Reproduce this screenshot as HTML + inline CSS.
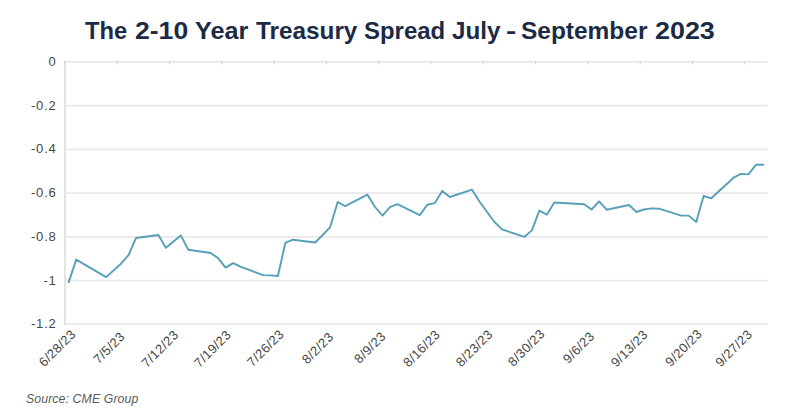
<!DOCTYPE html>
<html><head><meta charset="utf-8">
<style>
html,body{margin:0;padding:0;background:#fff;}
body{width:800px;height:419px;overflow:hidden;position:relative;font-family:"Liberation Sans",sans-serif;}
#title{position:absolute;left:0;top:0;width:800px;text-align:center;font-weight:bold;font-size:24px;color:#1c2b45;line-height:1;}
#title span{position:absolute;top:19px;white-space:nowrap;transform-origin:0 0;}
svg{position:absolute;left:0;top:0;}
#src{position:absolute;left:26px;top:393px;font-style:italic;font-size:12.3px;letter-spacing:0.1px;color:#5a5a5a;white-space:nowrap;line-height:1;}
</style></head><body>
<div id="title"><span style="left:85.36px;transform:scaleX(0.9878)">The</span><span style="left:134.76px;transform:scaleX(1.1064)">2-10</span><span style="left:194.62px;transform:scaleX(1.0503)">Year</span><span style="left:255.68px;transform:scaleX(1.0130)">Treasury</span><span style="left:363.51px;transform:scaleX(0.9980)">Spread</span><span style="left:451.64px;transform:scaleX(1.0092)">July</span><span style="left:505.68px;transform:scaleX(1.2922)">-</span><span style="left:521.47px;transform:scaleX(1.0192)">September</span><span style="left:654.92px;transform:scaleX(1.1200)">2023</span></div>
<svg width="800" height="419" viewBox="0 0 800 419">
<line x1="65.0" y1="61.9" x2="767.8" y2="61.9" stroke="#e9e9e9" stroke-width="1.7"/>
<line x1="65.0" y1="105.6" x2="767.8" y2="105.6" stroke="#e9e9e9" stroke-width="1.7"/>
<line x1="65.0" y1="149.3" x2="767.8" y2="149.3" stroke="#e9e9e9" stroke-width="1.7"/>
<line x1="65.0" y1="193.1" x2="767.8" y2="193.1" stroke="#e9e9e9" stroke-width="1.7"/>
<line x1="65.0" y1="236.8" x2="767.8" y2="236.8" stroke="#e9e9e9" stroke-width="1.7"/>
<line x1="65.0" y1="280.5" x2="767.8" y2="280.5" stroke="#e9e9e9" stroke-width="1.7"/>
<line x1="65.0" y1="324.2" x2="767.8" y2="324.2" stroke="#e9e9e9" stroke-width="1.7"/>

<line x1="65.0" y1="61.1" x2="65.0" y2="325.0" stroke="#e0e0e0" stroke-width="1.8"/>
<line x1="65.0" y1="60.9" x2="65.0" y2="64.4" stroke="#d0d0d0" stroke-width="1"/>
<line x1="117.3" y1="60.9" x2="117.3" y2="64.4" stroke="#d0d0d0" stroke-width="1"/>
<line x1="169.6" y1="60.9" x2="169.6" y2="64.4" stroke="#d0d0d0" stroke-width="1"/>
<line x1="221.9" y1="60.9" x2="221.9" y2="64.4" stroke="#d0d0d0" stroke-width="1"/>
<line x1="274.2" y1="60.9" x2="274.2" y2="64.4" stroke="#d0d0d0" stroke-width="1"/>
<line x1="326.4" y1="60.9" x2="326.4" y2="64.4" stroke="#d0d0d0" stroke-width="1"/>
<line x1="378.7" y1="60.9" x2="378.7" y2="64.4" stroke="#d0d0d0" stroke-width="1"/>
<line x1="431.0" y1="60.9" x2="431.0" y2="64.4" stroke="#d0d0d0" stroke-width="1"/>
<line x1="483.3" y1="60.9" x2="483.3" y2="64.4" stroke="#d0d0d0" stroke-width="1"/>
<line x1="535.6" y1="60.9" x2="535.6" y2="64.4" stroke="#d0d0d0" stroke-width="1"/>
<line x1="587.9" y1="60.9" x2="587.9" y2="64.4" stroke="#d0d0d0" stroke-width="1"/>
<line x1="640.2" y1="60.9" x2="640.2" y2="64.4" stroke="#d0d0d0" stroke-width="1"/>
<line x1="692.5" y1="60.9" x2="692.5" y2="64.4" stroke="#d0d0d0" stroke-width="1"/>
<line x1="744.8" y1="60.9" x2="744.8" y2="64.4" stroke="#d0d0d0" stroke-width="1"/>

<polyline points="68.7,282.1 76.2,259.6 106.1,277.1 121.0,263.7 128.5,255.2 136.0,238.0 158.4,235.0 165.8,247.8 180.8,235.4 188.3,249.7 210.7,253.0 218.1,258.1 225.6,267.6 233.1,263.1 240.5,266.7 263.0,275.1 270.4,275.4 277.9,276.0 285.4,242.8 292.8,239.7 315.2,242.5 322.7,235.0 330.2,227.1 337.7,202.0 345.1,206.2 367.5,194.7 375.0,207.0 382.5,215.6 389.9,207.2 397.4,204.2 419.8,215.1 427.3,204.7 434.8,203.1 442.2,190.9 449.7,197.0 472.1,189.7 479.6,201.8 487.1,212.0 494.5,222.0 502.0,229.4 524.4,236.8 531.9,230.4 539.3,210.6 546.8,214.7 554.3,202.5 584.2,204.2 591.6,209.5 599.1,201.4 606.6,209.7 629.0,205.0 636.5,212.0 643.9,209.5 651.4,208.4 658.9,208.7 681.3,215.6 688.7,215.6 696.2,222.1 703.7,195.8 711.2,198.3 733.6,177.7 741.0,173.9 748.5,174.4 756.0,164.7 763.4,164.7" fill="none" stroke="#579fba" stroke-width="1.9" stroke-linejoin="round" stroke-linecap="round"/>
<g font-family="Liberation Sans" font-size="13" fill="#474747">
<text x="56.6" y="65.9" text-anchor="end" letter-spacing="0.8">0</text>
<text x="56.6" y="109.6" text-anchor="end" letter-spacing="0.8">-0.2</text>
<text x="56.6" y="153.3" text-anchor="end" letter-spacing="0.8">-0.4</text>
<text x="56.6" y="197.1" text-anchor="end" letter-spacing="0.8">-0.6</text>
<text x="56.6" y="240.8" text-anchor="end" letter-spacing="0.8">-0.8</text>
<text x="56.6" y="284.5" text-anchor="end" letter-spacing="0.8">-1</text>
<text x="56.6" y="328.2" text-anchor="end" letter-spacing="0.8">-1.2</text>

<text transform="translate(73.1,332.1) rotate(-45)" x="0.35" y="4.5" text-anchor="end" letter-spacing="0.35">6/28/23</text>
<text transform="translate(122.3,334.5) rotate(-45)" x="0.35" y="4.5" text-anchor="end" letter-spacing="0.35">7/5/23</text>
<text transform="translate(175.9,332.8) rotate(-45)" x="0.35" y="4.5" text-anchor="end" letter-spacing="0.35">7/12/23</text>
<text transform="translate(228.4,332.8) rotate(-45)" x="0.35" y="4.5" text-anchor="end" letter-spacing="0.35">7/19/23</text>
<text transform="translate(281.4,332.1) rotate(-45)" x="0.35" y="4.5" text-anchor="end" letter-spacing="0.35">7/26/23</text>
<text transform="translate(330.9,334.8) rotate(-45)" x="0.35" y="4.5" text-anchor="end" letter-spacing="0.35">8/2/23</text>
<text transform="translate(383.2,334.2) rotate(-45)" x="0.35" y="4.5" text-anchor="end" letter-spacing="0.35">8/9/23</text>
<text transform="translate(437.5,332.5) rotate(-45)" x="0.35" y="4.5" text-anchor="end" letter-spacing="0.35">8/16/23</text>
<text transform="translate(490.1,332.2) rotate(-45)" x="0.35" y="4.5" text-anchor="end" letter-spacing="0.35">8/23/23</text>
<text transform="translate(542.1,331.8) rotate(-45)" x="0.35" y="4.5" text-anchor="end" letter-spacing="0.35">8/30/23</text>
<text transform="translate(591.9,334.2) rotate(-45)" x="0.35" y="4.5" text-anchor="end" letter-spacing="0.35">9/6/23</text>
<text transform="translate(645.2,332.5) rotate(-45)" x="0.35" y="4.5" text-anchor="end" letter-spacing="0.35">9/13/23</text>
<text transform="translate(699.5,331.8) rotate(-45)" x="0.35" y="4.5" text-anchor="end" letter-spacing="0.35">9/20/23</text>
<text transform="translate(749.6,332.2) rotate(-45)" x="0.35" y="4.5" text-anchor="end" letter-spacing="0.35">9/27/23</text>

</g>
</svg>
<div id="src">Source: CME Group</div>
</body></html>
